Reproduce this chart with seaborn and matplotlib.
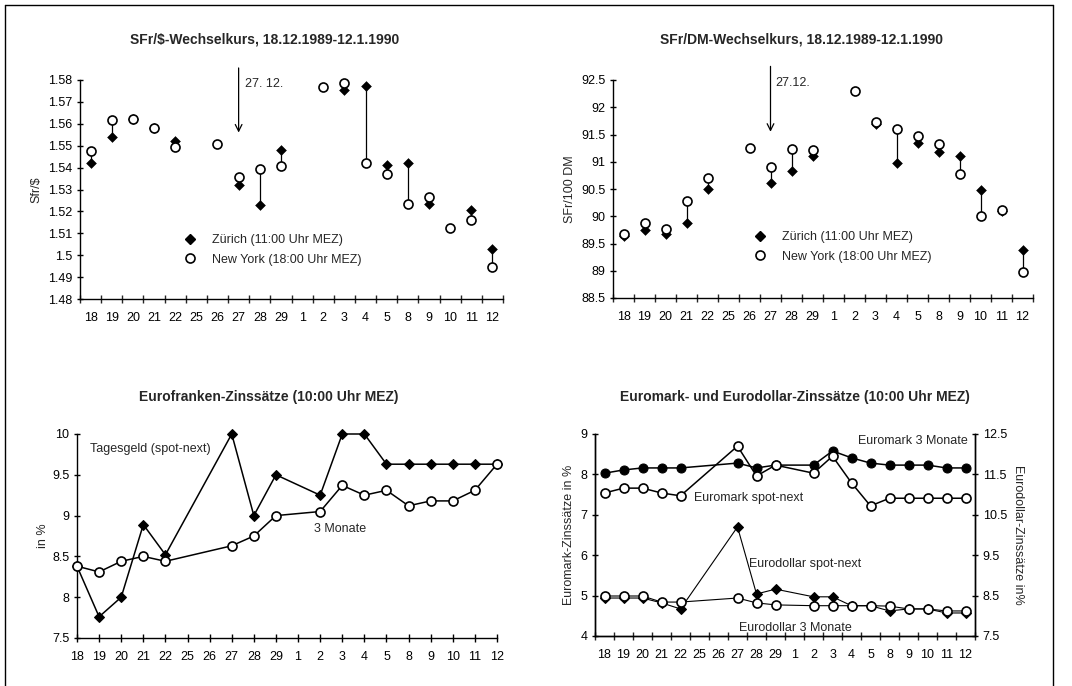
import numpy as np
import pandas as pd
import matplotlib
matplotlib.use("Agg")
import matplotlib.pyplot as plt
import seaborn as sns
from matplotlib.lines import Line2D

nan = np.nan
days = ['18', '19', '20', '21', '22', '25', '26', '27', '28', '29',
        '1', '2', '3', '4', '5', '8', '9', '10', '11', '12']

# SFr/$ exchange rate
usd_zurich = [1.542, 1.554, 1.5624, 1.558, 1.552, nan, nan, 1.532, 1.523, 1.548,
              nan, nan, 1.5753, 1.5771, 1.5414, 1.5422, 1.5236, nan, 1.5208, 1.5028]
usd_newyork = [1.5477, 1.5616, 1.5624, 1.558, 1.5495, nan, 1.551, 1.5358, 1.5393, 1.5407,
               nan, 1.5767, 1.5788, 1.5419, 1.5369, 1.5233, 1.5266, 1.5122, 1.5163, 1.4947]

# SFr/100 DM exchange rate
dm_zurich = [89.63, 89.74, 89.68, 89.88, 90.50, nan, nan, 90.61, 90.83, 91.11,
             nan, nan, 91.69, 90.97, 91.35, 91.18, 91.10, 90.48, 90.10, 89.38]
dm_newyork = [89.68, 89.88, 89.77, 90.28, 90.71, nan, 91.26, 90.91, 91.23, 91.21,
              nan, 92.29, 91.73, 91.60, 91.47, 91.32, 90.77, 90.01, 90.11, 88.97]

# Eurofranken interest rates
chf_tagesgeld = [8.38, 7.76, 8.0, 8.89, 8.52, nan, nan, 10.0, 9.0, 9.5,
                 nan, 9.25, 10.0, 10.0, 9.63, 9.63, 9.63, 9.63, 9.63, 9.63]
chf_3m = [8.38, 8.31, 8.44, 8.50, 8.44, nan, nan, 8.63, 8.75, 9.0,
          nan, 9.05, 9.37, 9.25, 9.31, 9.12, 9.18, 9.18, 9.31, 9.63]

# Euromark (left axis) and Eurodollar (right axis) interest rates
dem_3m = [8.03, 8.11, 8.16, 8.16, 8.16, nan, nan, 8.28, 8.16, 8.23,
          nan, 8.23, 8.58, 8.41, 8.28, 8.23, 8.23, 8.23, 8.16, 8.16]
dem_spot = [7.54, 7.66, 7.66, 7.54, 7.47, nan, nan, 8.70, 7.96, 8.23,
            nan, 8.03, 8.45, 7.79, 7.22, 7.41, 7.41, 7.41, 7.41, 7.41]
usd_spot = [8.44, 8.44, 8.44, 8.32, 8.17, nan, nan, 10.20, 8.54, 8.66,
            nan, 8.47, 8.47, 8.25, 8.25, 8.12, 8.17, 8.17, 8.07, 8.07]
usd_3m = [8.49, 8.49, 8.49, 8.34, 8.34, nan, nan, 8.44, 8.32, 8.27,
          nan, 8.25, 8.25, 8.25, 8.25, 8.24, 8.17, 8.17, 8.12, 8.12]

sns.set_theme(style="ticks")
plt.rcParams['font.family'] = ['Liberation Sans', 'DejaVu Sans']
plt.rcParams['axes.linewidth'] = 1.0
plt.rcParams['xtick.major.width'] = 1.0
plt.rcParams['ytick.major.width'] = 1.0
plt.rcParams['xtick.minor.width'] = 1.0

W, H = 1072, 686
fig = plt.figure(figsize=(W / 100, H / 100), dpi=100)


def add_ax(left, top, right, bottom):
    return fig.add_axes([left / W, 1 - bottom / H, (right - left) / W, (bottom - top) / H])


def style(ax, centered, right=False):
    ax.set_xticks(range(len(days)))
    ax.set_xticklabels(days, fontsize=9)
    if centered:
        ax.set_xlim(-0.5, len(days) - 0.5)
        ax.set_xticks(np.arange(-0.5, len(days), 1), minor=True)
        ax.tick_params(axis='x', which='major', length=0, pad=9)
        ax.tick_params(axis='x', which='minor', direction='inout', length=6)
    else:
        ax.set_xlim(0, len(days) - 1)
        ax.tick_params(axis='x', which='major', direction='inout', length=6, pad=6)
    ax.tick_params(axis='y', direction='inout', length=5, labelsize=9, pad=3)
    ax.spines['top'].set_visible(False)
    ax.spines['right'].set_visible(right)
    ax.set_xlabel('')
    for s in ax.spines.values():
        s.set_color('black')
    ax.tick_params(colors='black')


x = np.arange(len(days))


def exchange_panel(ax, zur, ny):
    df = pd.DataFrame({'x': x, 'z': zur, 'n': ny})
    both = df.dropna()
    ax.vlines(both['x'], both['z'], both['n'], color='black', lw=0.9, zorder=1)
    sns.scatterplot(data=df.dropna(subset=['z']), x='x', y='z', marker='D', s=25,
                    color='black', edgecolor='black', ax=ax, zorder=2, clip_on=False)
    sns.scatterplot(data=df.dropna(subset=['n']), x='x', y='n', marker='o', s=42,
                    facecolor='white', edgecolor='black', linewidth=1.2, ax=ax, zorder=3,
                    clip_on=False)
    handles = [Line2D([], [], marker='D', ls='none', color='black', markersize=5),
               Line2D([], [], marker='o', ls='none', markerfacecolor='white',
                      markeredgecolor='black', markeredgewidth=1.2, markersize=6.5)]
    return handles


# ---- top left
ax1 = add_ax(80, 80, 503, 299)
h = exchange_panel(ax1, usd_zurich, usd_newyork)
ax1.set_ylim(1.48, 1.58)
ax1.set_yticks(np.round(np.arange(1.48, 1.5801, 0.01), 2))
ax1.set_yticklabels(['1.48', '1.49', '1.5', '1.51', '1.52', '1.53', '1.54', '1.55',
                     '1.56', '1.57', '1.58'])
style(ax1, True)
ax1.set_ylabel('Sfr/$', fontsize=9, labelpad=4)
ax1.legend(h, ['Zürich (11:00 Uhr MEZ)', 'New York (18:00 Uhr MEZ)'], frameon=False,
           loc='lower left', bbox_to_anchor=(0.215, 0.10), fontsize=9, handletextpad=1.2,
           labelspacing=0.6, handlelength=1.2)
ax1.annotate('', xy=(7, 1.556), xytext=(7, 1.5855),
             arrowprops=dict(arrowstyle='->', lw=0.9, color='black', shrinkA=0, shrinkB=0),
             annotation_clip=False)
ax1.text(7.3, 1.578, '27. 12.', fontsize=9, ha='left', va='center')

# ---- top right
ax2 = add_ax(613, 80, 1033, 298)
h = exchange_panel(ax2, dm_zurich, dm_newyork)
ax2.set_ylim(88.5, 92.5)
ax2.set_yticks(np.arange(88.5, 92.51, 0.5))
ax2.set_yticklabels(['88.5', '89', '89.5', '90', '90.5', '91', '91.5', '92', '92.5'])
style(ax2, True)
ax2.set_ylabel('SFr/100 DM', fontsize=9, labelpad=4)
ax2.legend(h, ['Zürich (11:00 Uhr MEZ)', 'New York (18:00 Uhr MEZ)'], frameon=False,
           loc='lower left', bbox_to_anchor=(0.305, 0.11), fontsize=9, handletextpad=1.2,
           labelspacing=0.6, handlelength=1.2)
ax2.annotate('', xy=(7, 91.55), xytext=(7, 92.75),
             arrowprops=dict(arrowstyle='->', lw=0.9, color='black', shrinkA=0, shrinkB=0),
             annotation_clip=False)
ax2.text(7.25, 92.45, '27.12.', fontsize=9, ha='left', va='center')

# ---- bottom left
ax3 = add_ax(77, 434, 497, 638)
d3 = pd.DataFrame({'x': x, 'tg': chf_tagesgeld, 'm3': chf_3m})
sns.lineplot(data=d3.dropna(subset=['tg']), x='x', y='tg', color='black', lw=1.1,
             marker='D', markersize=5, markeredgecolor='black', ax=ax3, zorder=2,
             clip_on=False)
sns.lineplot(data=d3.dropna(subset=['m3']), x='x', y='m3', color='black', lw=1.1,
             marker='o', markersize=6.5, markerfacecolor='white', markeredgecolor='black',
             markeredgewidth=1.2, ax=ax3, zorder=3, clip_on=False)
ax3.set_ylim(7.5, 10)
ax3.set_yticks([7.5, 8, 8.5, 9, 9.5, 10])
ax3.set_yticklabels(['7.5', '8', '8.5', '9', '9.5', '10'])
style(ax3, False)
ax3.set_ylabel('in %', fontsize=9, labelpad=2)
ax3.text(0.6, 9.82, 'Tagesgeld (spot-next)', fontsize=9, ha='left', va='center')
ax3.text(10.7, 8.84, '3 Monate', fontsize=9, ha='left', va='center')

# ---- bottom right
ax4 = add_ax(595, 434, 975, 636)
ax5 = ax4.twinx()
d4 = pd.DataFrame({'x': x, 'm3': dem_3m, 'ms': dem_spot, 'ds': usd_spot, 'd3': usd_3m})
sns.lineplot(data=d4.dropna(subset=['ds']), x='x', y='ds', color='black', lw=0.8,
             marker='D', markersize=5, markeredgecolor='black', ax=ax5, zorder=2)
sns.lineplot(data=d4.dropna(subset=['d3']), x='x', y='d3', color='black', lw=0.8,
             marker='o', markersize=6.5, markerfacecolor='white', markeredgecolor='black',
             markeredgewidth=1.2, ax=ax5, zorder=3)
sns.lineplot(data=d4.dropna(subset=['m3']), x='x', y='m3', color='black', lw=1.1,
             marker='o', markersize=6.5, markeredgecolor='black', ax=ax4, zorder=2)
sns.lineplot(data=d4.dropna(subset=['ms']), x='x', y='ms', color='black', lw=1.1,
             marker='o', markersize=6.5, markerfacecolor='white', markeredgecolor='black',
             markeredgewidth=1.2, ax=ax4, zorder=3)
ax4.set_ylim(4, 9)
ax4.set_yticks([4, 5, 6, 7, 8, 9])
ax5.set_ylim(7.5, 12.5)
ax5.set_yticks([7.5, 8.5, 9.5, 10.5, 11.5, 12.5])
style(ax4, True, right=True)
ax5.spines['top'].set_visible(False)
for s in ax5.spines.values():
    s.set_color('black')
ax5.tick_params(axis='y', direction='inout', length=5, labelsize=9, pad=3, colors='black')
ax4.set_ylabel('Euromark-Zinssätze in %', fontsize=9, labelpad=4)
ax5.set_ylabel('Eurodollar-Zinssätze in%', fontsize=9, rotation=270, labelpad=12)
ax5.grid(False)
ax4.text(13.35, 8.83, 'Euromark 3 Monate', fontsize=9, ha='left', va='center')
ax4.text(4.7, 7.42, 'Euromark spot-next', fontsize=9, ha='left', va='center')
ax4.text(7.6, 5.78, 'Eurodollar spot-next', fontsize=9, ha='left', va='center')
ax4.text(7.1, 4.2, 'Eurodollar 3 Monate', fontsize=9, ha='left', va='center')

# ---- titles
tkw = dict(fontsize=10, fontweight='bold', ha='center', va='center')
fig.text(265 / W, 1 - 40 / H, 'SFr/$-Wechselkurs, 18.12.1989-12.1.1990', **tkw)
fig.text(801 / W, 1 - 40 / H, 'SFr/DM-Wechselkurs, 18.12.1989-12.1.1990', **tkw)
fig.text(269 / W, 1 - 397 / H, 'Eurofranken-Zinssätze (10:00 Uhr MEZ)', **tkw)
fig.text(795 / W, 1 - 397 / H, 'Euromark- und Eurodollar-Zinssätze (10:00 Uhr MEZ)', **tkw)

# ---- page frame
fr = dict(color='black', lw=1.0, transform=fig.transFigure)
fig.add_artist(Line2D([5 / W, 1053 / W], [1 - 5 / H, 1 - 5 / H], **fr))
fig.add_artist(Line2D([5 / W, 5 / W], [0, 1 - 5 / H], **fr))
fig.add_artist(Line2D([1053 / W, 1053 / W], [0, 1 - 5 / H], **fr))

fig.savefig('out.png', dpi=100)
